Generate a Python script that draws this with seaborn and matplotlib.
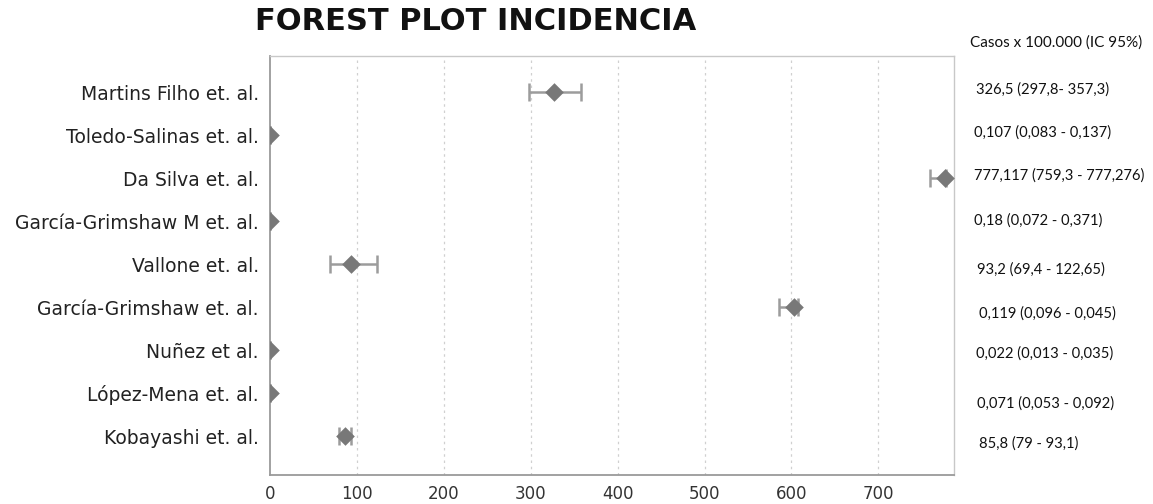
import matplotlib
matplotlib.use("Agg")
import matplotlib.pyplot as plt
import matplotlib.transforms as mtransforms
import seaborn as sns
import pandas as pd

studies = ["Martins Filho et. al.", "Toledo-Salinas et. al.", "Da Silva et. al.",
           "García-Grimshaw M et. al.", "Vallone et. al.", "García-Grimshaw et. al.",
           "Nuñez et al.", "López-Mena et. al.", "Kobayashi et. al."]
estimate = [326.5, 0.107, 777.117, 0.18, 93.2, 603.0, 0.022, 0.071, 85.8]
lower = [297.8, 0.083, 759.3, 0.072, 69.4, 586.0, 0.013, 0.053, 79.0]
upper = [357.3, 0.137, 777.276, 0.371, 122.65, 608.0, 0.035, 0.092, 93.1]
ci_text = ["326,5 (297,8- 357,3)", "0,107 (0,083 - 0,137)", "777,117 (759,3 - 777,276)",
           "0,18 (0,072 - 0,371)", "93,2 (69,4 - 122,65)", "0,119 (0,096 - 0,045)",
           "0,022 (0,013 - 0,035)", "0,071 (0,053 - 0,092)", "85,8 (79 - 93,1)"]
header = "Casos x 100.000 (IC 95%)"
title = "FOREST PLOT INCIDENCIA"
xticks = [0, 100, 200, 300, 400, 500, 600, 700]

df = pd.DataFrame({"study": studies, "est": estimate, "lo": lower, "hi": upper,
                   "row": list(range(len(studies)))})

sns.set_style("white")
plt.rcParams["font.family"] = ["DejaVu Sans"]

fig = plt.figure(figsize=(11.53, 5.04), dpi=100)
ax = fig.add_axes([0.2342, 0.0575, 0.5932, 0.8314])

# dotted grid
for xt in xticks[1:]:
    ax.axvline(xt, color="#d0d0d0", linestyle=(0, (2, 3)), linewidth=0.9, zorder=0)

ax.errorbar(df["est"], df["row"],
            xerr=[df["est"] - df["lo"], df["hi"] - df["est"]],
            fmt="none", ecolor="#9c9c9c", elinewidth=1.8, capsize=6.5, capthick=1.8,
            zorder=2)
sns.scatterplot(data=df, x="est", y="row", marker="D", s=90, color="#787878",
                edgecolor="#787878", linewidth=0, ax=ax, zorder=3)

ax.set_xlim(0, 787)
ax.set_ylim(8.9, -0.84)
ax.set_xticks(xticks)
ax.set_xticklabels([str(v) for v in xticks], fontsize=12, color="#333333")
ax.set_yticks(df["row"])
ax.set_yticklabels(studies, fontsize=13.5, color="#222222")
ax.set_xlabel("")
ax.set_ylabel("")
ax.tick_params(axis="y", length=5, width=1, color="#aaaaaa", pad=3)
ax.tick_params(axis="x", length=0, pad=7)
for side in ["left", "bottom"]:
    ax.spines[side].set_color("#9a9a9a")
    ax.spines[side].set_linewidth(1.3)
for side in ["top", "right"]:
    ax.spines[side].set_color("#c8c8c8")
    ax.spines[side].set_linewidth(1.0)

fig.text(476 / 1153, 1 - 21 / 504, title, ha="center", va="center",
         fontsize=22, fontweight="bold", family=["DejaVu Sans"],
         color="#111111")

trans = mtransforms.blended_transform_factory(fig.transFigure, ax.transData)
fig.text(970 / 1153, 1 - 43 / 504, header, ha="left", va="center",
         fontsize=11, family=["Lato", "DejaVu Sans"], color="#111111")
offsets = [-0.07, -0.05, -0.05, -0.02, 0.12, 0.14, 0.07, 0.23, 0.16]
xpos = [976, 974, 974, 974, 977, 979, 976, 977, 979]
for i, t in enumerate(ci_text):
    ax.text(xpos[i] / 1153, i + offsets[i], t, transform=trans, ha="left",
            va="center", fontsize=10.6, family=["Lato", "DejaVu Sans"],
            color="#111111")

fig.savefig("out.png", dpi=100)
